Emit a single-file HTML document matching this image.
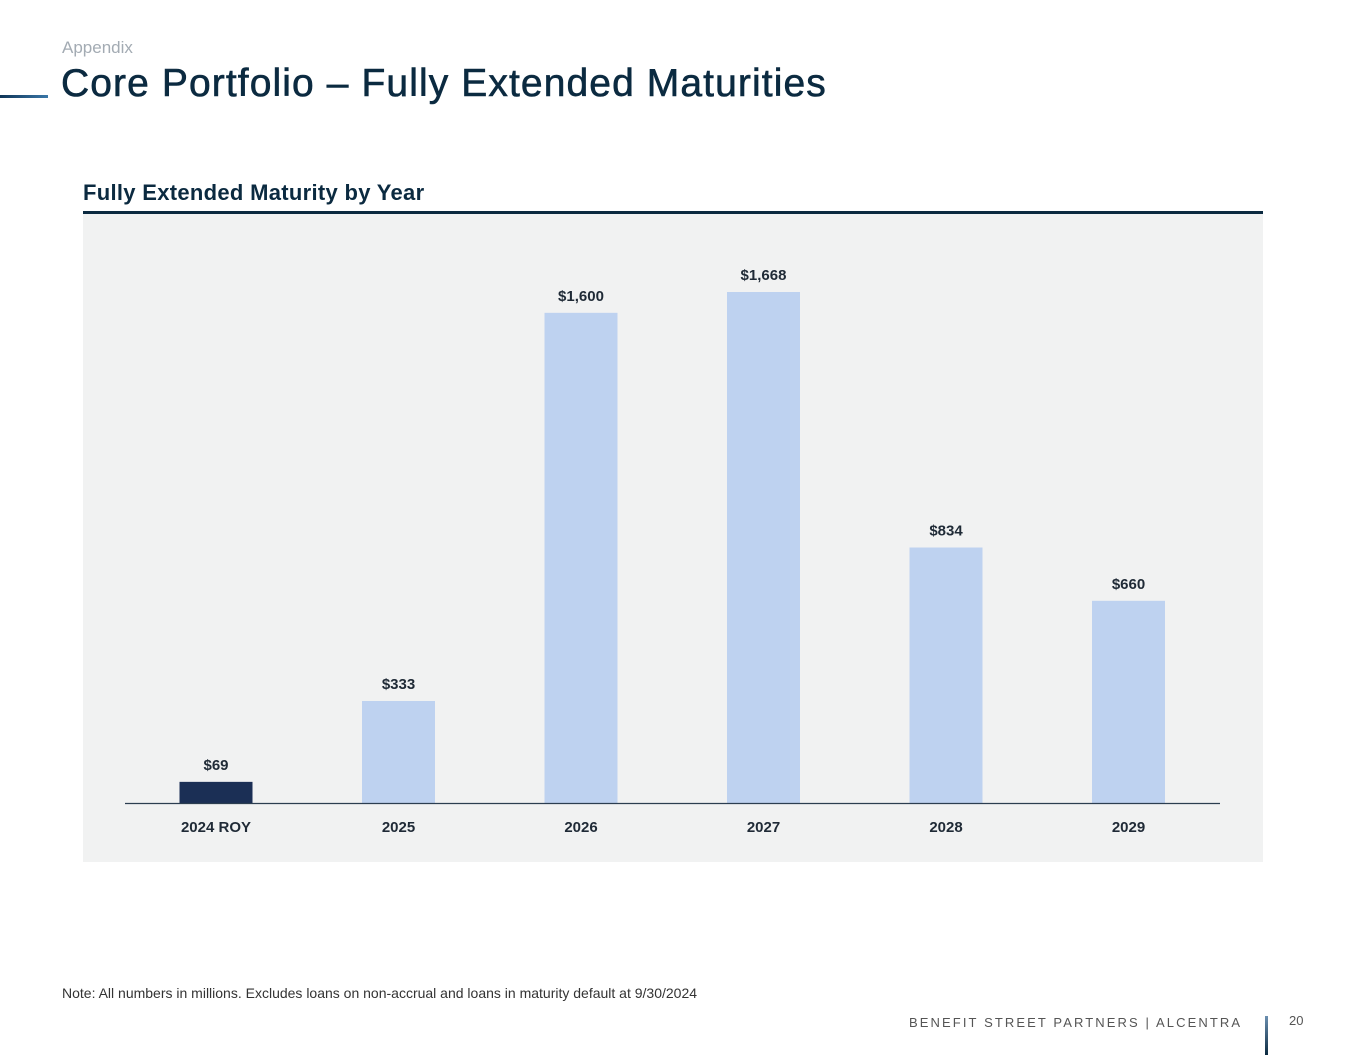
<!DOCTYPE html>
<html><head><meta charset="utf-8"><style>
body{margin:0;width:1365px;height:1055px;background:#fff;font-family:"Liberation Sans",sans-serif;position:relative;overflow:hidden}
.abs{position:absolute;white-space:nowrap}
</style></head><body>
<div class="abs" style="left:62px;top:38px;font-size:17px;color:#a3abb3">Appendix</div>
<div class="abs" style="left:0;top:95px;width:48px;height:3px;background:linear-gradient(90deg,#0f3557,#3a77a8)"></div>
<div class="abs" style="left:61px;top:62px;font-size:39px;color:#0b2a40;letter-spacing:1.1px;-webkit-text-stroke:0.6px #0b2a40">Core Portfolio – Fully Extended Maturities</div>
<div class="abs" style="left:83px;top:180px;font-size:22px;font-weight:bold;color:#0b2a40;letter-spacing:0.3px">Fully Extended Maturity by Year</div>
<div class="abs" style="left:83px;top:211px;width:1180px;height:3px;background:#0b2a40"></div>
<svg class="abs" style="left:0;top:0" width="1365" height="1055">
<rect x="83" y="214" width="1180" height="648" fill="#f1f2f2"/>
<g id="bars"></g>
<line x1="125" y1="803.5" x2="1220" y2="803.5" stroke="#2c3e50" stroke-width="1.3"/>
</svg>
<div class="abs" style="left:62px;top:985px;font-size:14px;color:#333">Note: All numbers in millions. Excludes loans on non-accrual and loans in maturity default at 9/30/2024</div>
<div class="abs" style="left:909px;top:1015px;font-size:13px;letter-spacing:2.1px;color:#555">BENEFIT STREET PARTNERS | ALCENTRA</div>
<div class="abs" style="left:1265px;top:1016px;width:3px;height:39px;background:linear-gradient(#6b8fb0,#0b2a40)"></div>
<div class="abs" style="left:1289px;top:1013px;font-size:13px;color:#555">20</div>
<script>
const categories=["2024 ROY","2025","2026","2027","2028","2029"];
const values=[69,333,1600,1668,834,660];
const valueLabels=["$69","$333","$1,600","$1,668","$834","$660"];
const NS="http://www.w3.org/2000/svg";
const baseY=803,scale=511/1668;
function xCenter(i){return 216+i*182.5;}
function yPos(v){return baseY-v*scale;}
const g=document.getElementById('bars');
categories.forEach((c,i)=>{
  const r=document.createElementNS(NS,'rect');
  r.setAttribute('x',xCenter(i)-36.5);r.setAttribute('y',yPos(values[i]));
  r.setAttribute('width',73);r.setAttribute('height',baseY-yPos(values[i]));
  r.setAttribute('fill',i===0?'#1b2f55':'#bed2f0');
  
  
  g.appendChild(r);
  const t=document.createElementNS(NS,'text');
  t.setAttribute('x',xCenter(i));t.setAttribute('y',yPos(values[i])-12);
  t.setAttribute('text-anchor','middle');t.setAttribute('font-size','15');
  t.setAttribute('font-weight','bold');t.setAttribute('fill','#1f2a36');
  t.setAttribute('font-family','Liberation Sans, sans-serif');
  t.textContent=valueLabels[i];
  
  
  g.appendChild(t);
  const l=document.createElementNS(NS,'text');
  l.setAttribute('x',xCenter(i));l.setAttribute('y',832);
  l.setAttribute('text-anchor','middle');l.setAttribute('font-size','15');
  l.setAttribute('font-weight','bold');l.setAttribute('fill','#1f2a36');
  l.setAttribute('font-family','Liberation Sans, sans-serif');
  l.textContent=c;
  
  
  g.appendChild(l);
});
</script>
</body></html>
